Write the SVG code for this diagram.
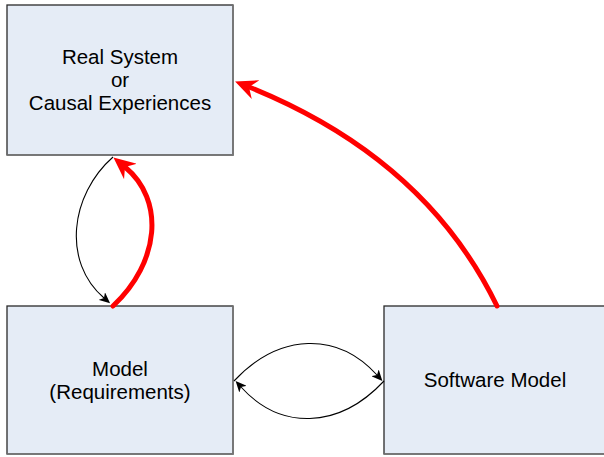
<svg xmlns="http://www.w3.org/2000/svg" width="604" height="457" viewBox="0 0 604 457">
<style>
.box{fill:#E5ECF6;stroke:#2a2a2a;stroke-width:1.3}
.shade{fill:none;stroke:#7a7a7a;stroke-width:1.6}
.lbl{font-family:"Liberation Sans",Arial,sans-serif;font-size:20.5px;fill:#000;text-anchor:middle}
.thin{fill:none;stroke:#000;stroke-width:1.1}
.red{fill:none;stroke:#FF0000;stroke-width:5;stroke-linecap:round}
</style>
<defs>
<marker id="ab" markerUnits="userSpaceOnUse" viewBox="0 0 11 10" refX="3" refY="5" markerWidth="11" markerHeight="10" orient="auto">
<path d="M11,5 L0,0 L3,5 L0,10 Z" fill="#000"/>
</marker>
<marker id="ar" markerUnits="userSpaceOnUse" viewBox="0 0 22 20" refX="7" refY="10" markerWidth="22" markerHeight="20" orient="auto">
<path d="M22,10 L0,0 L7,10 L0,20 Z" fill="#FF0000"/>
</marker>
</defs>
<rect width="604" height="457" fill="#fff"/>
<g id="real-system">
<rect class="box" x="7" y="5" width="226" height="150"/>
<path class="shade" d="M233,5 V155 H7"/>
<text class="lbl" x="120" y="64">Real System</text>
<text class="lbl" x="120" y="87">or</text>
<text class="lbl" x="120" y="110">Causal Experiences</text>
</g>
<g id="model">
<rect class="box" x="7" y="306" width="226" height="148"/>
<path class="shade" d="M233,306 V454 H7"/>
<text class="lbl" x="120" y="376">Model</text>
<text class="lbl" x="120" y="399">(Requirements)</text>
</g>
<g id="software-model">
<rect class="box" x="384" y="306" width="224" height="148"/>
<path class="shade" d="M384,454 H608"/>
<text class="lbl" x="495" y="387">Software Model</text>
</g>
<g id="connectors">
<path class="thin" d="M113,157 C70,195 62,262 104,298" marker-end="url(#ab)"/>
<path class="red" d="M113,306 C160,262 165,200 125,167" marker-end="url(#ar)"/>
<path class="thin" d="M234,381 C280,332 338,332 377,375" marker-end="url(#ab)"/>
<path class="thin" d="M384,381 C338,430 280,430 241,387" marker-end="url(#ab)"/>
<path class="red" d="M497,306 Q425,158 249,87" marker-end="url(#ar)"/>
</g>
</svg>
